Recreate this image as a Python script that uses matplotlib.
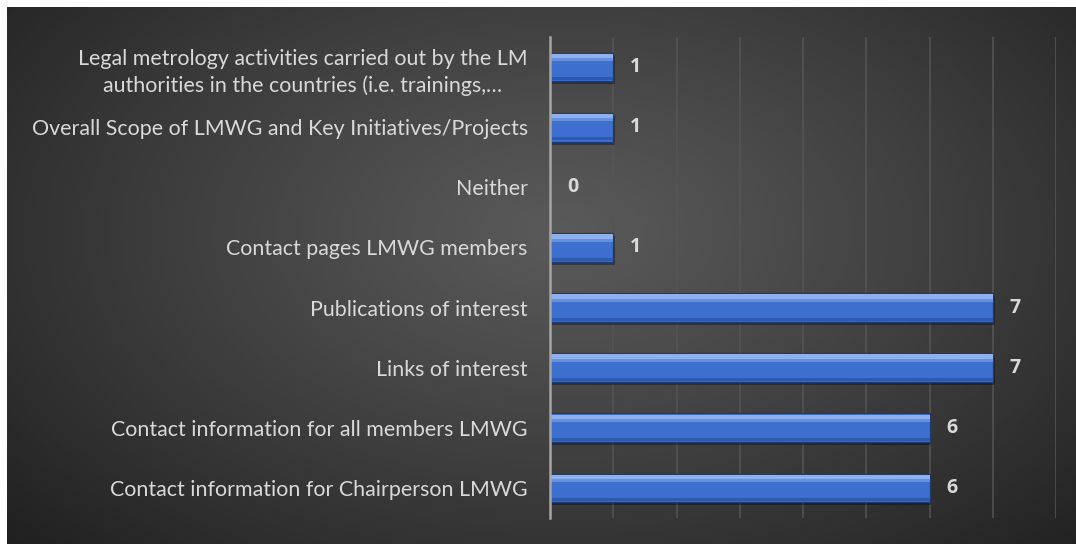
import numpy as np
import matplotlib.pyplot as plt

# =========================
# DATA
# =========================

categories = [
    "Legal metrology activities carried out by the LM\nauthorities in the countries (i.e. trainings,…",
    "Overall Scope of LMWG and Key Initiatives/Projects",
    "Neither",
    "Contact pages LMWG members",
    "Publications of interest",
    "Links of interest",
    "Contact information for all members LMWG",
    "Contact information for Chairperson LMWG",
]
values = [1, 1, 0, 1, 7, 7, 6, 6]
x_ticks = [0, 1, 2, 3, 4, 5, 6, 7, 8]

plt.rcParams['font.family'] = ['Lato', 'DejaVu Sans']

W, H = 1076, 544
fig = plt.figure(figsize=(W / 100, H / 100), dpi=100)
fig.patch.set_facecolor('white')

# =========================
# BACKGROUND (radial gradient)
# =========================
bg = fig.add_axes([7 / W, 0, 1 - 7 / W, 1 - 7 / H])
bg.set_axis_off()
gx, gy = np.meshgrid(np.linspace(0, 1, 600), np.linspace(0, 1, 300))
d = np.sqrt(((gx - 0.52) / 0.75) ** 2 + ((gy - 0.42) / 0.9) ** 2)
d = np.clip(d / d.max(), 0, 1)
c_in, c_out = 0x5a / 255, 0x20 / 255
shade = c_in + (c_out - c_in) * d ** 1.1
img = np.dstack([shade, shade, shade])
bg.imshow(img, aspect='auto', extent=[0, 1, 0, 1], origin='upper')

# =========================
# BARS
# =========================
ax = fig.add_axes([550 / W, 1 - 518 / H, (1056 - 550) / W, (518 - 37) / H])
ax.set_facecolor('none')
y = np.arange(len(categories))
h = 0.48

# shadow
ax.barh(y + 0.05, values, height=h, left=0.03, color='black', alpha=0.35, zorder=2)
# body
ax.barh(y, values, height=h, color='#3D6FCF', edgecolor='#1E3A6E', linewidth=0.9, zorder=3)
# bevel: light top, soft middle, darker bottom
ax.barh(y - h / 2 + 0.06, values, height=0.08, color='#8DB1F0', linewidth=0, zorder=4)
ax.barh(y - h / 2 + 0.12, values, height=0.05, color='#6791DE', linewidth=0, zorder=4)
ax.barh(y + h / 2 - 0.045, values, height=0.05, color='#2D5AAE', linewidth=0, zorder=4)

for yi, v in zip(y, values):
    ax.text(v + 0.27, yi, str(v), color='#d9d9d9', fontsize=14, fontweight='bold',
            family=['Open Sans', 'DejaVu Sans'], ha='left', va='center', zorder=5)

ax.set_xlim(0, 8)
ax.set_ylim(len(categories) - 0.5, -0.5)
ax.set_xticks(x_ticks)
ax.set_xticklabels([])
ax.set_yticks(y)
ax.set_yticklabels(categories, color='#d9d9d9', fontsize=15.4, multialignment='center',
                   linespacing=1.4)
ax.tick_params(axis='both', length=0)
ax.tick_params(axis='y', pad=16)
ax.grid(axis='x', color='#555555', linewidth=1.1, zorder=0)
ax.set_axisbelow(True)
for s in ['top', 'right', 'bottom']:
    ax.spines[s].set_visible(False)
ax.spines['left'].set_color('#a6a6a6')
ax.spines['left'].set_linewidth(1.8)
ax.spines['left'].set_zorder(6)

fig.savefig('out.png', dpi=100, facecolor=fig.get_facecolor())
